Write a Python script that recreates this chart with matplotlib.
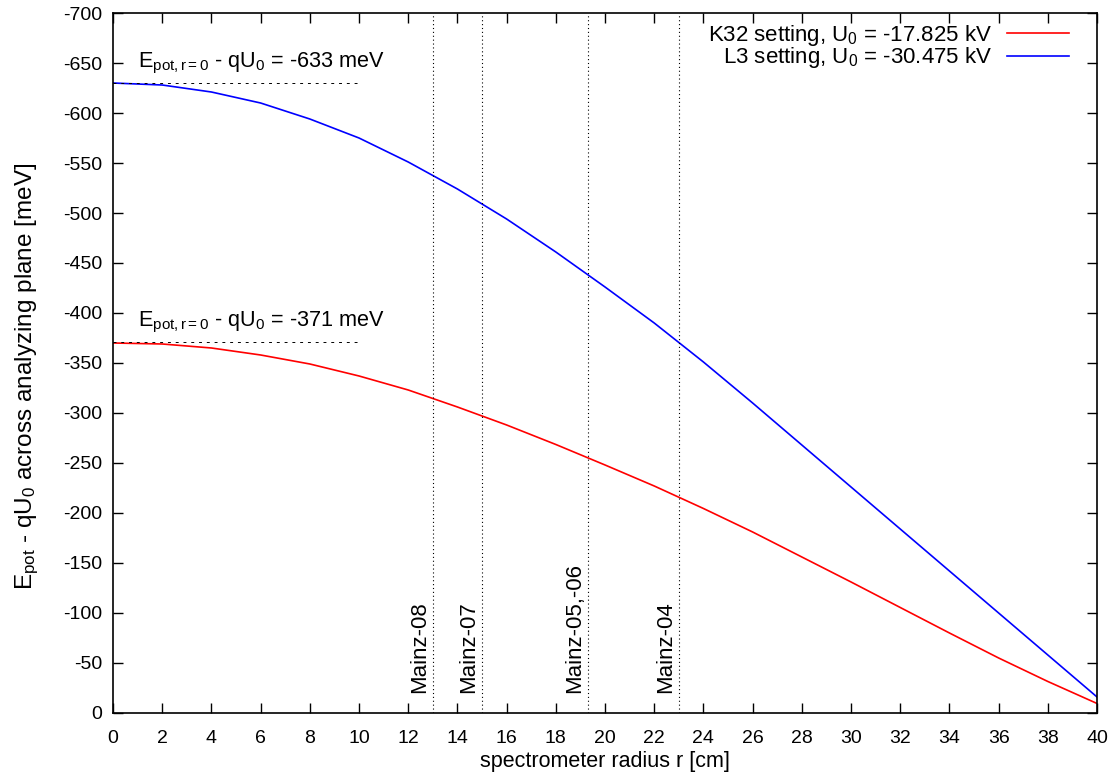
import numpy as np
import matplotlib
matplotlib.use("Agg")
import matplotlib.pyplot as plt

plt.rcParams['font.family'] = ['Liberation Sans', 'DejaVu Sans']
plt.rcParams['mathtext.fontset'] = 'custom'
plt.rcParams['mathtext.rm'] = 'Liberation Sans'
plt.rcParams['mathtext.it'] = 'Liberation Sans'
plt.rcParams['axes.unicode_minus'] = False

# data
radius = [0, 2, 4, 6, 8, 10, 12, 14, 16, 18, 20, 22, 24, 26, 28, 30, 32, 34, 36, 38, 40]
k32 = [-370, -369, -365, -358, -349, -337, -323, -306, -288, -268.5, -248,
       -227, -204.5, -181, -156, -131, -105.5, -80, -55, -31.5, -9.5]
l3 = [-630, -628, -621, -610, -594, -575, -551, -524, -494, -461, -426,
      -390, -351, -310, -268, -226, -184, -142, -100, -58, -16]
k32_label = 'K32 setting, U$_0$ = -17.825 kV'
l3_label = 'L3 setting, U$_0$ = -30.475 kV'

# r=0 reference lines and notes
ref_levels = [-630, -371]
ref_notes = ['E$_{\\rm pot,r=0}$ - qU$_0$ = -633 meV',
             'E$_{\\rm pot,r=0}$ - qU$_0$ = -371 meV']
ref_end = 10

# Mainz measurement radii
mainz_r = [13.0, 15.0, 19.3, 23.0]
mainz_names = ['Mainz-08', 'Mainz-07', 'Mainz-05,-06', 'Mainz-04']

fig = plt.figure(figsize=(11.17, 7.84), dpi=100)
ax = fig.add_axes([0.1012, 0.0906, 0.8809, 0.8928])

ax.plot(radius, k32, color='#ff0000', lw=1.2, label=k32_label)
ax.plot(radius, l3, color='#0000ff', lw=1.2, label=l3_label)

for lev, note in zip(ref_levels, ref_notes):
    ax.plot([0, ref_end], [lev, lev], color='black', lw=0.7, dashes=(3, 5))
    ax.text(1.0, lev - 20, note, fontsize=15.6, va='center', ha='left')

for r, name in zip(mainz_r, mainz_names):
    ax.axvline(r, color='black', lw=0.8, dashes=(1, 2.5))
    ax.text(r - 0.12, -20, name, rotation=90, fontsize=16, ha='right', va='bottom')

ax.set_xlim(0, 40)
ax.set_ylim(0, -700)
ax.set_xticks(np.arange(0, 41, 2))
ax.set_yticks(np.arange(0, -701, -50))
ax.tick_params(direction='in', length=7, width=1, top=True, right=True,
               labelsize=14, pad=8)
ax.tick_params(axis='x', pad=12)
for s in ax.spines.values():
    s.set_linewidth(1.2)

ax.set_xlabel('spectrometer radius r [cm]', fontsize=15.5, labelpad=3)
ax.set_ylabel('E$_{\\rm pot}$ - qU$_0$ across analyzing plane [meV]', fontsize=17.5)
ax.yaxis.set_label_coords(-0.073, 0.481)

ax.legend(loc='upper right', frameon=False, markerfirst=False, fontsize=16,
          handlelength=2.8, handletextpad=0.65, labelspacing=-0.1,
          borderaxespad=0.5, bbox_to_anchor=(0.992, 1.015))

fig.savefig('out.png', dpi=100)
